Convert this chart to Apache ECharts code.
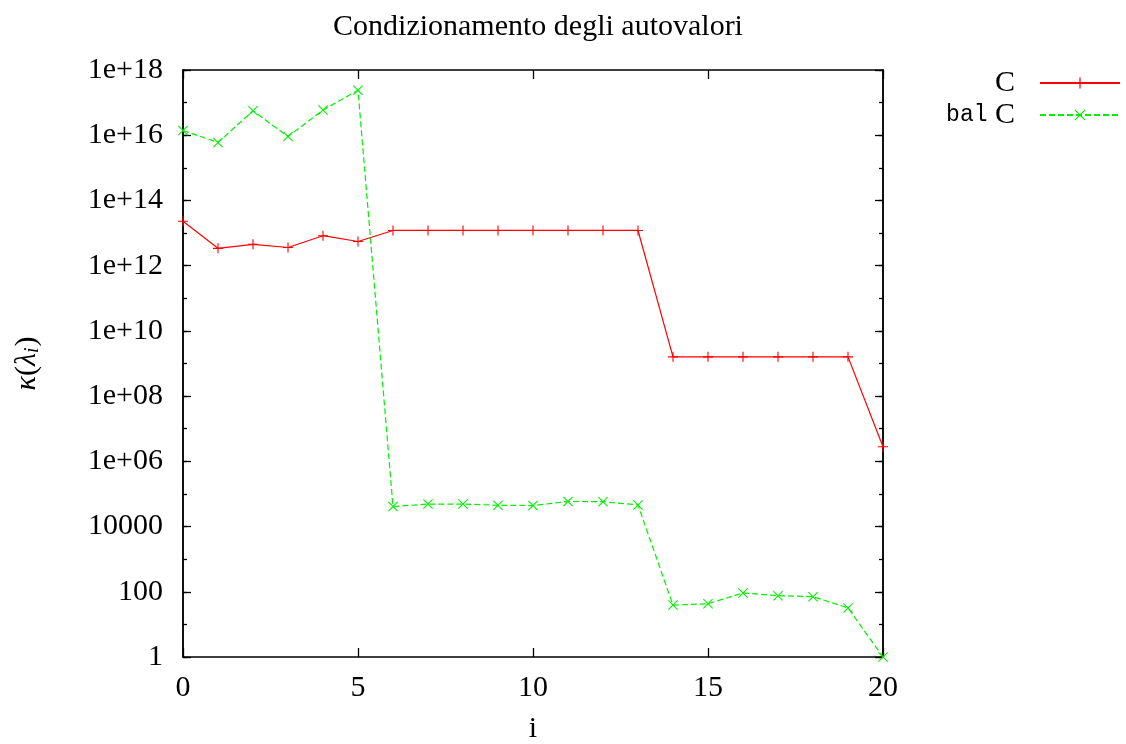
<!DOCTYPE html>
<html>
<head>
<meta charset="utf-8">
<script src="https://cdn.jsdelivr.net/npm/echarts@6/dist/echarts.min.js"></script>
<style>
html,body{margin:0;padding:0;background:#fff;}
#chart{width:1126px;height:744px;}
</style>
</head>
<body>
<div id="chart"></div>
<script>
// ---- data ----
const iValues = [0,1,2,3,4,5,6,7,8,9,10,11,12,13,14,15,16,17,18,19,20];
const seriesCName = 'C';
const seriesCValues = [2.3e13, 3.4e12, 4.5e12, 3.6e12, 8.3e12, 5.5e12,
  1.2e13, 1.2e13, 1.2e13, 1.2e13, 1.2e13, 1.2e13, 1.2e13, 1.2e13,
  1.6e9, 1.6e9, 1.6e9, 1.6e9, 1.6e9, 1.6e9, 2.8e6];
const seriesBalName = 'bal C';
const seriesBalValues = [1.4e16, 6.0e15, 5.6e16, 9.1e15, 5.9e16, 2.4e17,
  4.1e4, 4.9e4, 4.9e4, 4.5e4, 4.4e4, 5.9e4, 5.8e4, 4.6e4,
  39, 43, 92, 76, 71, 32, 1];
const titleText = 'Condizionamento degli autovalori';
const xTickLabels = ['0','5','10','15','20'];

// ---- chart ----
const SERIF = '"Liberation Serif", "DejaVu Serif", serif';
const MONO = '"Liberation Mono", "DejaVu Sans Mono", monospace';
const FS = 30;

function yLabel(v) {
  const e = Math.round(Math.log10(v));
  if (e % 2 !== 0) return '';
  if (e >= 6) return '1e+' + (e < 10 ? '0' + e : String(e));
  return String(Math.round(Math.pow(10, e)));
}

const plusSym = 'path://M0,4.45H10V5.55H0Z M4.45,0H5.55V10H4.45Z';
const crossSym = 'path://M0,0.75L0.75,0L10,9.25L9.25,10Z M9.25,0L10,0.75L0.75,10L0,9.25Z';

const pair = (vals) => iValues.map((x, k) => [x, vals[k]]);

const axisLine = {show: true, lineStyle: {color: '#000', width: 1.5}};

function yAxisDef(pos, interval, tickLen, labels) {
  return {
    type: 'log', logBase: 10, min: 1, max: 1e18, interval: interval,
    position: pos,
    axisLine: axisLine,
    axisTick: {show: true, inside: true, length: tickLen, lineStyle: {color: '#000', width: 1.3}},
    axisLabel: labels ? {
      show: true, formatter: yLabel, margin: 20,
      fontFamily: SERIF, fontSize: FS, color: '#000'
    } : {show: false},
    splitLine: {show: false}
  };
}

const chart = echarts.init(document.getElementById('chart'));
chart.setOption({
  animation: false,
  backgroundColor: '#fff',
  title: {
    text: titleText, left: 533, top: 7, textAlign: 'center',
    textStyle: {fontFamily: SERIF, fontSize: FS, fontWeight: 'normal', color: '#000'}
  },
  grid: {left: 183, right: 243, top: 70, bottom: 87, containLabel: false, outerBoundsMode: 'none'},
  legend: [
    {
      data: [seriesCName], orient: 'vertical', right: 0, top: 63, align: 'right',
      itemWidth: 80, itemHeight: 14,
      textStyle: {fontFamily: SERIF, fontSize: FS, color: '#000', padding: [0, 20, 0, 0]},
      selectedMode: false
    },
    {
      data: [seriesBalName], orient: 'vertical', right: 0, top: 95, align: 'right',
      itemWidth: 80, itemHeight: 14,
      formatter: () => '{m|bal} {s|C}',
      textStyle: {
        fontFamily: SERIF, fontSize: FS, color: '#000', padding: [0, 20, 0, 0],
        rich: {
          m: {fontFamily: MONO, fontSize: 23, color: '#000'},
          s: {fontFamily: SERIF, fontSize: FS, color: '#000'}
        }
      },
      selectedMode: false
    }
  ],
  xAxis: [
    {
      type: 'value', min: 0, max: 20, interval: 5, position: 'bottom',
      name: 'i', nameLocation: 'middle', nameGap: 57,
      nameTextStyle: {fontFamily: SERIF, fontSize: FS, color: '#000'},
      axisLine: axisLine,
      axisTick: {show: true, inside: true, length: 9, lineStyle: {color: '#000', width: 1.3}},
      axisLabel: {
        show: true, margin: 16, fontFamily: SERIF, fontSize: FS, color: '#000',
        formatter: (v) => xTickLabels[Math.round(v / 5)]
      },
      splitLine: {show: false}
    },
    {
      type: 'value', min: 0, max: 20, interval: 5, position: 'top',
      axisLine: axisLine,
      axisTick: {show: true, inside: true, length: 9, lineStyle: {color: '#000', width: 1.3}},
      axisLabel: {show: false},
      splitLine: {show: false}
    }
  ],
  yAxis: [
    Object.assign(yAxisDef('left', 2, 8, true), {
      name: '{k|κ}{p|(}{k|λ}{sub|i}{p|)}',
      nameLocation: 'middle', nameGap: 140, nameRotate: 90,
      nameTextStyle: {
        fontFamily: SERIF, fontSize: FS, color: '#000',
        rich: {
          k: {fontFamily: SERIF, fontStyle: 'italic', fontSize: FS, color: '#000'},
          p: {fontFamily: SERIF, fontSize: FS, color: '#000'},
          sub: {fontFamily: SERIF, fontStyle: 'italic', fontSize: 20, color: '#000', padding: [12, 1, 0, 0]}
        }
      }
    }),
    yAxisDef('left', 1, 4, false),
    yAxisDef('right', 2, 8, false),
    yAxisDef('right', 1, 4, false)
  ],
  series: [
    {
      name: seriesCName, type: 'line', xAxisIndex: 0, yAxisIndex: 0,
      data: pair(seriesCValues),
      symbol: plusSym, symbolSize: 10, showSymbol: true,
      lineStyle: {color: '#ff0000', width: 1.2, type: 'solid'},
      itemStyle: {color: '#ff0000'},
      clip: false
    },
    {
      name: seriesBalName, type: 'line', xAxisIndex: 0, yAxisIndex: 0,
      data: pair(seriesBalValues),
      symbol: crossSym, symbolSize: 10, showSymbol: true,
      lineStyle: {color: '#00f000', width: 1.2, type: [6, 3]},
      itemStyle: {color: '#00f000'},
      clip: false
    }
  ]
});
</script>
</body>
</html>
